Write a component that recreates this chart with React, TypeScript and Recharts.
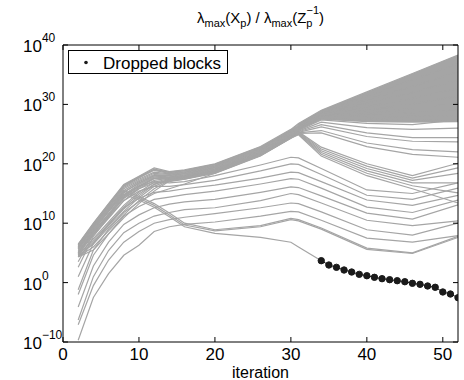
import React from "react"
import { Area, ComposedChart, Line, ReferenceLine, XAxis, YAxis } from "recharts"

// log10 of the ratio
const iterations = [2, 4, 6, 8, 10, 12, 14, 16, 20, 26, 30, 31, 34, 40, 46, 52]

// lines that open up into the top fan
const fanLines = [
  [6.5, 10.0, 13.3, 16.5, 17.9, 19.3, 18.7, 19.0, 20.0, 22.9, 25.8, 26.8, 29.0, 32.1, 35.2, 38.3],
  [6.4, 9.9, 13.2, 16.4, 17.8, 19.1, 18.6, 18.9, 19.9, 22.8, 25.7, 26.6, 28.8, 31.4, 34.1, 36.9],
  [6.3, 9.8, 13.1, 16.3, 17.7, 19.0, 18.5, 18.8, 19.8, 22.7, 25.6, 26.4, 28.6, 30.8, 33.0, 35.5],
  [6.2, 9.7, 13.0, 16.2, 17.6, 18.9, 18.4, 18.7, 19.7, 22.6, 25.5, 26.3, 28.4, 30.2, 32.0, 34.1],
  [6.0, 9.5, 12.8, 16.0, 17.4, 18.6, 18.3, 18.6, 19.6, 22.5, 25.4, 26.2, 28.2, 29.6, 31.0, 32.7],
  [5.9, 9.3, 12.6, 15.8, 17.2, 18.4, 18.2, 18.5, 19.5, 22.4, 25.3, 26.1, 28.0, 29.0, 30.1, 31.4],
  [5.7, 9.1, 12.3, 15.5, 17.0, 18.2, 18.1, 18.4, 19.4, 22.3, 25.2, 26.0, 27.9, 28.5, 29.3, 30.2],
  [5.6, 8.8, 12.0, 15.2, 16.8, 18.0, 18.0, 18.3, 19.3, 22.2, 25.1, 25.9, 27.8, 28.1, 28.6, 29.1],
  [5.4, 8.5, 11.6, 14.8, 16.5, 17.8, 17.9, 18.2, 19.2, 22.1, 25.0, 25.8, 27.7, 27.7, 28.0, 28.1],
  [5.2, 8.2, 11.2, 14.4, 16.2, 17.6, 17.8, 18.1, 19.1, 22.0, 24.9, 25.7, 27.6, 27.3, 27.4, 27.2],
]

const middleLines = [
  [5.0, 8.6, 11.5, 14.6, 16.3, 17.6, 17.7, 18.0, 19.0, 21.9, 24.8, 25.6, 27.4, 26.8, 26.6, 27.4],
  [4.8, 8.0, 10.8, 13.8, 15.8, 17.2, 17.6, 17.9, 18.9, 21.8, 24.7, 25.5, 27.0, 26.1, 25.8, 26.0],
  [4.6, 7.4, 10.2, 13.0, 15.2, 16.9, 17.5, 17.8, 18.8, 21.7, 24.6, 25.4, 26.6, 25.2, 24.4, 24.4],
  [4.4, 6.8, 9.6, 12.4, 14.6, 16.5, 17.4, 17.7, 18.7, 21.6, 24.5, 25.3, 26.2, 24.6, 23.8, 23.7],
  [3.5, 8.2, 11.4, 14.2, 15.8, 16.8, 17.0, 17.4, 18.6, 21.5, 24.4, 25.2, 25.6, 23.5, 22.4, 22.0],
  [-1.2, 5.5, 9.0, 11.8, 13.6, 15.0, 15.8, 16.6, 18.4, 21.4, 24.3, 25.1, 25.2, 22.9, 21.6, 21.1],
]

// the band that turns down after iteration 31
const bendLines = [
  [5.0, 8.9, 12.0, 15.2, 16.7, 18.0, 17.6, 17.9, 18.9, 21.8, 24.8, 25.4, 22.8, 20.0, 18.0, 20.1],
  [4.9, 8.3, 11.2, 14.2, 16.0, 17.5, 17.5, 17.8, 18.8, 21.7, 24.7, 25.3, 22.5, 19.6, 17.6, 19.3],
  [4.7, 7.1, 9.9, 12.7, 14.9, 16.6, 17.4, 17.7, 18.7, 21.6, 24.6, 25.2, 22.2, 19.2, 17.2, 18.4],
  [4.5, 6.5, 9.3, 12.0, 14.3, 16.2, 17.3, 17.6, 18.6, 21.5, 24.5, 25.1, 21.9, 18.8, 16.8, 16.8],
  [4.4, 6.0, 8.7, 11.4, 13.8, 15.8, 17.2, 17.5, 18.5, 21.4, 24.4, 25.0, 21.6, 18.4, 16.3, 15.1],
  [4.3, 5.5, 8.2, 10.9, 13.3, 15.4, 17.1, 17.4, 18.4, 21.3, 24.3, 24.9, 21.3, 18.0, 15.8, 13.4],
]

const lowerLines = [
  [4.3, 8.8, 12.0, 14.8, 16.2, 17.0, 16.8, 17.0, 18.0, 19.8, 21.1, 21.0, 19.2, 15.6, 15.0, 16.8],
  [2.6, 7.8, 11.0, 13.8, 15.4, 16.2, 16.2, 16.5, 17.2, 18.8, 20.0, 19.9, 18.2, 14.7, 14.0, 15.9],
  [1.0, 6.6, 9.8, 12.6, 14.2, 15.2, 15.4, 15.8, 16.4, 17.6, 18.6, 18.5, 17.0, 13.9, 13.0, 14.7],
  [-2.0, 4.6, 8.2, 11.2, 12.8, 14.0, 14.4, 14.8, 15.4, 16.6, 17.5, 17.4, 15.9, 12.7, 11.8, 13.9],
  [-4.1, 2.8, 6.8, 9.8, 11.4, 12.6, 13.2, 13.6, 14.0, 15.2, 16.1, 16.0, 14.6, 11.7, 10.7, 13.1],
  [-6.3, 1.0, 5.4, 8.4, 10.0, 11.2, 11.8, 12.3, 12.6, 13.8, 15.0, 14.8, 13.4, 10.5, 9.6, 10.4],
  [-7.1, -0.5, 3.8, 6.8, 8.6, 10.0, 10.6, 11.0, 11.6, 12.6, 13.4, 13.3, 11.9, 8.9, 8.0, 10.0],
  [-9.7, -2.5, 1.5, 4.6, 6.3, 8.6, 9.4, 9.8, 10.2, 11.2, 12.0, 11.9, 10.5, 7.5, 6.8, 7.9],
  [6.0, 9.6, 12.7, 15.5, 14.5, 13.3, 11.7, 10.0, 8.9, 9.6, 10.8, 10.6, 9.2, 5.8, 5.0, 7.8],
  [5.8, 9.4, 12.5, 15.2, 14.2, 13.0, 11.4, 9.7, 8.7, 9.4, 10.6, 10.4, 9.0, 5.6, 4.9, 7.6],
]

// gray part of the dropped block, iterations 2..34
const droppedHead = [5.6, 9.2, 12.2, 14.9, 13.9, 12.7, 11.1, 9.4, 8.3, 7.6, 6.8, 6.0, 3.69]

const droppedIters = [34, 35, 36, 37, 38, 39, 40, 41, 42, 43, 44, 45, 46, 47, 48, 49, 50, 51, 52]
const droppedValues = [3.69, 2.96, 2.57, 2.12, 1.78, 1.39, 1.16, 0.89, 0.66, 0.49, 0.32, 0.15, -0.12, -0.29, -0.57, -0.79, -1.58, -1.92, -2.54]

// solid gray wedge at the top right
const fanIters = [31, 34, 40, 46, 52]
const fanLow = [25.7, 27.4, 27.0, 26.9, 27.0]
const fanHigh = [26.8, 29.0, 32.1, 35.2, 38.3]

const xTicks = [0, 10, 20, 30, 40, 50]
const yTicks = [-10, 0, 10, 20, 30, 40]

const GRAY = "#a5a5a5"
const PLOT_TOP = 45
const PLOT_BOTTOM = 342
const PLOT_LEFT = 63
const PLOT_RIGHT = 458

const grayLines = [...fanLines, ...middleLines, ...bendLines, ...lowerLines, droppedHead]

const allX = Array.from(new Set([...iterations, ...droppedIters])).sort((a, b) => a - b)
const rows = allX.map((x) => {
  const row: any = { x }
  const i = iterations.indexOf(x)
  grayLines.forEach((vals, k) => {
    if (i >= 0 && vals[i] !== undefined) row["g" + k] = vals[i]
  })
  const d = droppedIters.indexOf(x)
  if (d >= 0) row.dropped = droppedValues[d]
  const f = fanIters.indexOf(x)
  if (f >= 0) row.fan = [fanLow[f], fanHigh[f]]
  return row
})

function XTick({ x, payload }: any) {
  return (
    <g>
      <line x1={x} x2={x} y1={PLOT_BOTTOM} y2={PLOT_BOTTOM - 5} stroke="#000" />
      <line x1={x} x2={x} y1={PLOT_TOP} y2={PLOT_TOP + 5} stroke="#000" />
      <text x={x} y={PLOT_BOTTOM + 18} textAnchor="middle" fontSize={17} fill="#000">
        {payload.value}
      </text>
    </g>
  )
}

function YTick({ y, payload }: any) {
  const exp = payload.value < 0 ? "\u2212" + Math.abs(payload.value) : String(payload.value)
  return (
    <g>
      <line x1={PLOT_LEFT} x2={PLOT_LEFT + 5} y1={y} y2={y} stroke="#000" />
      <line x1={PLOT_RIGHT} x2={PLOT_RIGHT - 5} y1={y} y2={y} stroke="#000" />
      <text x={23} y={y + 7} fontSize={17} fill="#000">
        10
        <tspan dy={-10} fontSize={12}>
          {exp}
        </tspan>
      </text>
    </g>
  )
}

export default function App() {
  return (
    <div
      style={{
        position: "absolute",
        left: 0,
        top: 0,
        width: 464,
        height: 380,
        background: "#fff",
        fontFamily: "'Liberation Sans', Arial, Helvetica, sans-serif",
      }}
    >
      <ComposedChart width={464} height={380} data={rows} margin={{ top: PLOT_TOP, right: 6, bottom: 0, left: 0 }}>
        <XAxis
          dataKey="x"
          type="number"
          domain={[0, 52]}
          ticks={xTicks}
          allowDataOverflow
          height={38}
          tickLine={false}
          tickSize={0}
          tickMargin={0}
          axisLine={{ stroke: "#000" }}
          tick={XTick}
          label={{ value: "iteration", position: "insideBottom", offset: 2, fontSize: 16, fill: "#000" }}
        />
        <YAxis
          type="number"
          domain={[-10, 40]}
          ticks={yTicks}
          allowDataOverflow
          width={63}
          tickLine={false}
          tickSize={0}
          tickMargin={0}
          axisLine={{ stroke: "#000" }}
          tick={YTick}
        />
        <Area
          dataKey="fan"
          type="linear"
          stroke="none"
          fill={GRAY}
          fillOpacity={1}
          connectNulls
          isAnimationActive={false}
        />
        {grayLines.map((_, k) => (
          <Line
            key={k}
            dataKey={"g" + k}
            type="linear"
            stroke={GRAY}
            strokeWidth={1.2}
            dot={false}
            connectNulls
            isAnimationActive={false}
          />
        ))}
        <Line
          dataKey="dropped"
          type="linear"
          stroke="#1a1a1a"
          strokeWidth={1}
          dot={{ r: 3.2, fill: "#1a1a1a", stroke: "#1a1a1a", strokeWidth: 1 }}
          connectNulls
          isAnimationActive={false}
        />
        <ReferenceLine y={40} stroke="#000" />
        <ReferenceLine x={52} stroke="#000" />
      </ComposedChart>
      <svg width={464} height={380} style={{ position: "absolute", left: 0, top: 0, pointerEvents: "none" }}>
        <text x={260.5} y={23} textAnchor="middle" fontSize={15} fill="#000">
          λ<tspan dy={4} fontSize={11}>max</tspan>
          <tspan dy={-4}>(X</tspan>
          <tspan dy={4} fontSize={11}>p</tspan>
          <tspan dy={-4}>) / λ</tspan>
          <tspan dy={4} fontSize={11}>max</tspan>
          <tspan dy={-4}>(Z</tspan>
          <tspan dy={4} fontSize={11}>p</tspan>
          <tspan dx={-6} dy={-13} fontSize={11}>−1</tspan>
          <tspan dy={9}>)</tspan>
        </text>
        <rect x={68.5} y={50.5} width={159} height={23} fill="#fff" stroke="#000" />
        <circle cx={86} cy={62.5} r={1.8} fill="#1a1a1a" />
        <text x={103} y={69} fontSize={17} fill="#000">
          Dropped blocks
        </text>
      </svg>
    </div>
  )
}
